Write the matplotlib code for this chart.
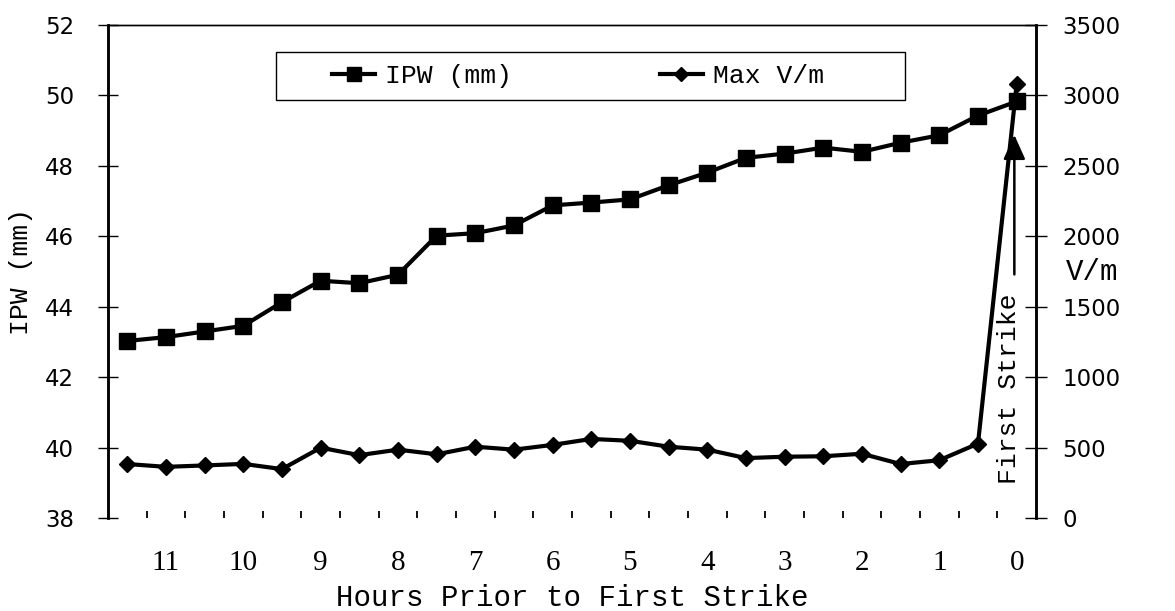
import numpy as np
import matplotlib
matplotlib.use("Agg")
import matplotlib.pyplot as plt
from matplotlib.patches import Rectangle

# hours before the first strike (half-hour steps)
hours = [11.5, 11, 10.5, 10, 9.5, 9, 8.5, 8, 7.5, 7, 6.5, 6,
         5.5, 5, 4.5, 4, 3.5, 3, 2.5, 2, 1.5, 1, 0.5, 0]
ipw = [43.03, 43.14, 43.30, 43.46, 44.13, 44.74, 44.67, 44.91, 46.02, 46.09, 46.31, 46.88,
       46.96, 47.05, 47.45, 47.81, 48.23, 48.35, 48.52, 48.40, 48.66, 48.87, 49.43, 49.83]
max_vm = [384, 364, 374, 385, 348, 500, 447, 486, 453, 507, 486, 520,
          562, 549, 507, 486, 426, 436, 439, 457, 384, 411, 529, 3080]
hour_labels = [11, 10, 9, 8, 7, 6, 5, 4, 3, 2, 1, 0]
ipw_ticks = [38, 40, 42, 44, 46, 48, 50, 52]
vm_ticks = [0, 500, 1000, 1500, 2000, 2500, 3000, 3500]

mono = "Liberation Mono"
serif = "Liberation Serif"

fig = plt.figure(figsize=(11.75, 6.11), dpi=100)
ax = fig.add_axes([0.0919, 0.152, 0.7898, 0.807])
ax2 = ax.twinx()

l1, = ax.plot(hours, ipw, color="black", lw=3, marker="s", ms=11, label="IPW (mm)")
l2, = ax2.plot(hours, max_vm, color="black", lw=3, marker="D", ms=8, label="Max V/m")

ax.set_xlim(11.75, -0.25)
ax.set_ylim(38, 52)
ax2.set_ylim(0, 3500)
ax.set_yticks(ipw_ticks)
ax2.set_yticks(vm_ticks)

# x axis: labels on the hours, little marks between the points
ax.set_xticks(hour_labels)
ax.set_xticklabels([str(h) for h in hour_labels], fontfamily=serif, fontsize=21)
ax.set_xticks(np.arange(11.25, 0, -0.5), minor=True)
ax.tick_params(axis="x", which="major", length=0, pad=23)
ax.tick_params(axis="x", which="minor", direction="in", length=5, width=1.3)

ax.tick_params(axis="y", direction="inout", length=15, width=1, labelsize=16.5, pad=17)
ax2.tick_params(axis="y", direction="inout", length=16, width=1, labelsize=16.5, pad=11)

for a in (ax, ax2):
    a.spines["bottom"].set_visible(False)
    a.spines["left"].set_linewidth(1.8)
    a.spines["right"].set_linewidth(1.8)
    a.spines["top"].set_linewidth(1.0)

ax.set_ylabel("IPW (mm)", fontfamily=mono, fontsize=19)
ax.yaxis.set_label_coords(-0.081, 0.5)
ax.set_xlabel("Hours Prior to First Strike", fontfamily=mono, fontsize=21, labelpad=6)

ax2.set_ylabel("V/m", fontfamily=mono, fontsize=21, rotation=0, ha="left", va="center")
ax2.yaxis.set_label_coords(1.032, 0.5)

# arrow + vertical text marking the first strike
ax2.annotate("", xy=(0.03, 2720), xytext=(0.03, 1730),
             arrowprops=dict(arrowstyle="-|>,head_length=1.0,head_width=0.45",
                             mutation_scale=15, shrinkA=0, shrinkB=0,
                             color="black", lw=1.8))
ax2.text(0.10, 240, "First Strike", rotation=90, ha="center", va="bottom",
         fontfamily=mono, fontsize=19)

# legend box drawn separately so the padding can differ left/right
ax.add_patch(Rectangle((0.181, 0.847), 0.678, 0.098, transform=ax.transAxes,
                       fill=False, edgecolor="black", lw=1.0, zorder=5))
leg = ax.legend(handles=[l1, l2], ncol=2, loc="center left",
                bbox_to_anchor=(0.2414, 0.896), borderpad=0, borderaxespad=0,
                prop={"family": mono, "size": 19}, frameon=False,
                handlelength=1.63, handletextpad=0.38, columnspacing=5.6,
                markerscale=0.9)

fig.savefig("out.png", dpi=100)
